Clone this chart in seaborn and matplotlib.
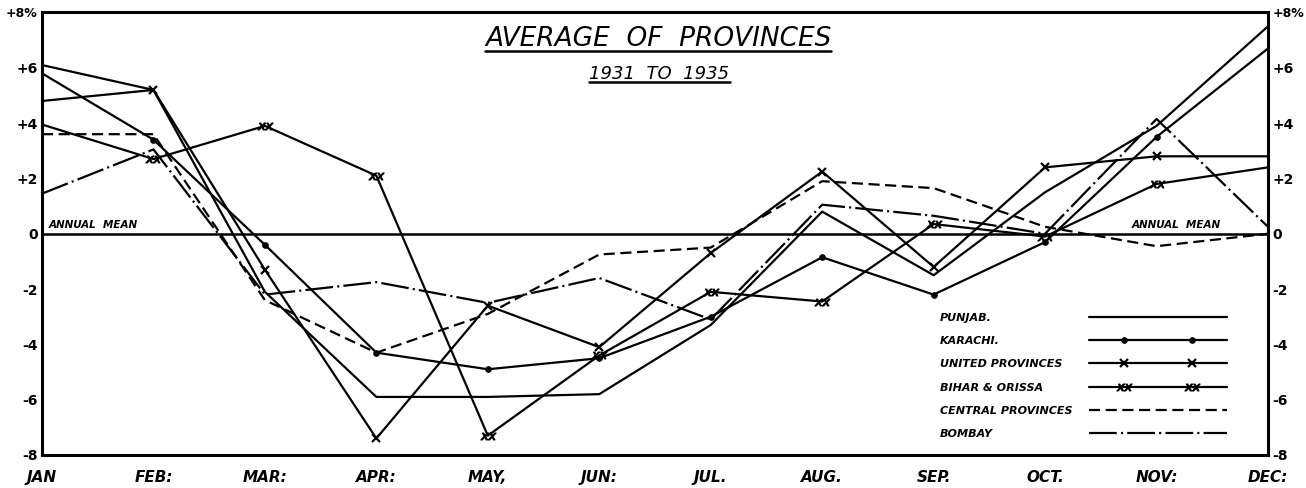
import numpy as np
import seaborn as sns
import matplotlib.pyplot as plt
from matplotlib import font_manager
from matplotlib.lines import Line2D

# monthly deviation from annual mean (%)
months = ["JAN", "FEB:", "MAR:", "APR:", "MAY,", "JUN:", "JUL.", "AUG.", "SEP.", "OCT.", "NOV:", "DEC:"]
punjab = [6.1, 5.2, -2.1, -5.9, -5.9, -5.8, -3.3, 0.8, -1.5, 1.5, 3.9, 7.5]
karachi = [5.8, 3.4, -0.4, -4.3, -4.9, -4.5, -3.0, -0.85, -2.2, -0.3, 3.5, 6.7]
united = [4.8, 5.2, -1.3, -7.4, -2.6, -4.1, -0.7, 2.25, -1.2, 2.4, 2.8, 2.8]
bihar = [3.95, 2.7, 3.9, 2.1, -7.3, -4.4, -2.1, -2.45, 0.35, -0.1, 1.8, 2.4]
central = [3.6, 3.6, -2.4, -4.3, -2.9, -0.75, -0.5, 1.9, 1.65, 0.25, -0.45, 0.0]
bombay = [1.45, 3.05, -2.2, -1.75, -2.5, -1.6, -3.1, 1.05, 0.65, 0.0, 4.15, 0.25]

names = ["PUNJAB.", "KARACHI.", "UNITED PROVINCES", "BIHAR & ORISSA", "CENTRAL PROVINCES", "BOMBAY"]
yticks = [8, 6, 4, 2, 0, -2, -4, -6, -8]
ytick_labels = ["+8%", "+6", "+4", "+2", "0", "-2", "-4", "-6", "-8"]

sns.set_style("white")
available = {f.name for f in font_manager.fontManager.ttflist}
if "Liberation Sans Narrow" in available:
    plt.rcParams["font.family"] = ["Liberation Sans Narrow", "DejaVu Sans"]
    sz = dict(title=23, sub=17, month=14, legend=10.5, annual=9.5, ytick=12)
else:
    plt.rcParams["font.family"] = ["DejaVu Sans"]
    sz = dict(title=19, sub=13, month=11, legend=8, annual=7.5, ytick=10)
plt.rcParams.update({"lines.scale_dashes": False, "text.color": "black",
                     "xtick.color": "black", "ytick.color": "black", "axes.edgecolor": "black"})

fig = plt.figure(figsize=(13.06, 4.88), dpi=100)
ax = fig.add_axes([42 / 1306, 1 - 455 / 488, 1226 / 1306, 442.5 / 488])

inner = list(range(1, len(months) - 1))
styles = [
    dict(linestyle="-"),
    dict(linestyle="-", marker="o", markersize=4, markevery=inner),
    dict(linestyle="-", marker="x", markersize=6, markeredgewidth=1.6, markevery=inner),
    dict(linestyle="-", marker="$xx$", markersize=11, markeredgewidth=0.8, markevery=inner),
    dict(linestyle=(0, (8, 4))),
    dict(linestyle=(0, (20, 3, 1.5, 3))),
]

x = np.arange(len(months))
for name, vals, st in zip(names, [punjab, karachi, united, bihar, central, bombay], styles):
    sns.lineplot(x=x, y=vals, ax=ax, color="black", linewidth=1.6, label=name,
                 markeredgecolor="black", markerfacecolor="black", legend=False, **st)

ax.axhline(0, color="black", lw=1.8)
ax.set_xlim(0, 11)
ax.set_ylim(-8, 8)
ax.set_xticks(x, months)
ax.set_yticks(yticks, ytick_labels)
ax.tick_params(axis="y", length=0, labelleft=True, labelright=True, pad=3, labelsize=sz["ytick"])
ax.tick_params(axis="x", direction="inout", length=8, width=1.5, pad=7, labelsize=sz["month"])
for tick in ax.yaxis.get_major_ticks():
    for lab in (tick.label1, tick.label2):
        lab.set_fontweight("bold")
        if lab.get_text() == "+8%":
            lab.set_fontsize(sz["ytick"] - 1)
for lab in ax.get_xticklabels():
    lab.set_fontweight("bold")
    lab.set_fontstyle("italic")
for s in ax.spines.values():
    s.set_linewidth(2.2)

annual = dict(fontsize=sz["annual"], fontweight="bold", style="italic", va="bottom")
ax.text(0.06, 0.15, "ANNUAL  MEAN", **annual)
ax.text(9.78, 0.15, "ANNUAL  MEAN", **annual)

# legend: labels left-aligned, keys right-aligned
prop = dict(weight="bold", style="italic", size=sz["legend"])
handles, _ = ax.get_legend_handles_labels()
leg_text = ax.legend(handles, names, loc="upper left", bbox_to_anchor=(0.7325, 0.322),
                     frameon=False, handlelength=0, handletextpad=0, borderpad=0,
                     borderaxespad=0, labelspacing=1.2, prop=prop)
for h in leg_text.legend_handles:
    h.set_visible(False)
ax.add_artist(leg_text)
leg_keys = ax.legend(handles, [""] * len(names), loc="upper right", bbox_to_anchor=(0.969, 0.322),
                     frameon=False, handlelength=144 / 1.389 / sz["legend"], handletextpad=0,
                     numpoints=5, borderpad=0, borderaxespad=0, labelspacing=1.2, prop=prop)
for h in leg_keys.legend_handles:
    h.set_markevery([1, 3])

title = fig.text(0.504, 0.92, "AVERAGE  OF  PROVINCES", ha="center", va="center",
                 fontsize=sz["title"], style="italic")
sub = fig.text(0.505, 0.848, "1931  TO  1935", ha="center", va="center",
               fontsize=sz["sub"], style="italic")

fig.canvas.draw()
inv = fig.transFigure.inverted()
for t in (title, sub):
    bb = t.get_window_extent()
    (x0, y0), (x1, _) = inv.transform([(bb.x0, bb.y0 + 1), (bb.x1, bb.y0 + 1)])
    fig.add_artist(Line2D([x0, x1], [y0, y0], transform=fig.transFigure, color="black", lw=1.8))

fig.savefig("out.png", dpi=100, facecolor="white")
